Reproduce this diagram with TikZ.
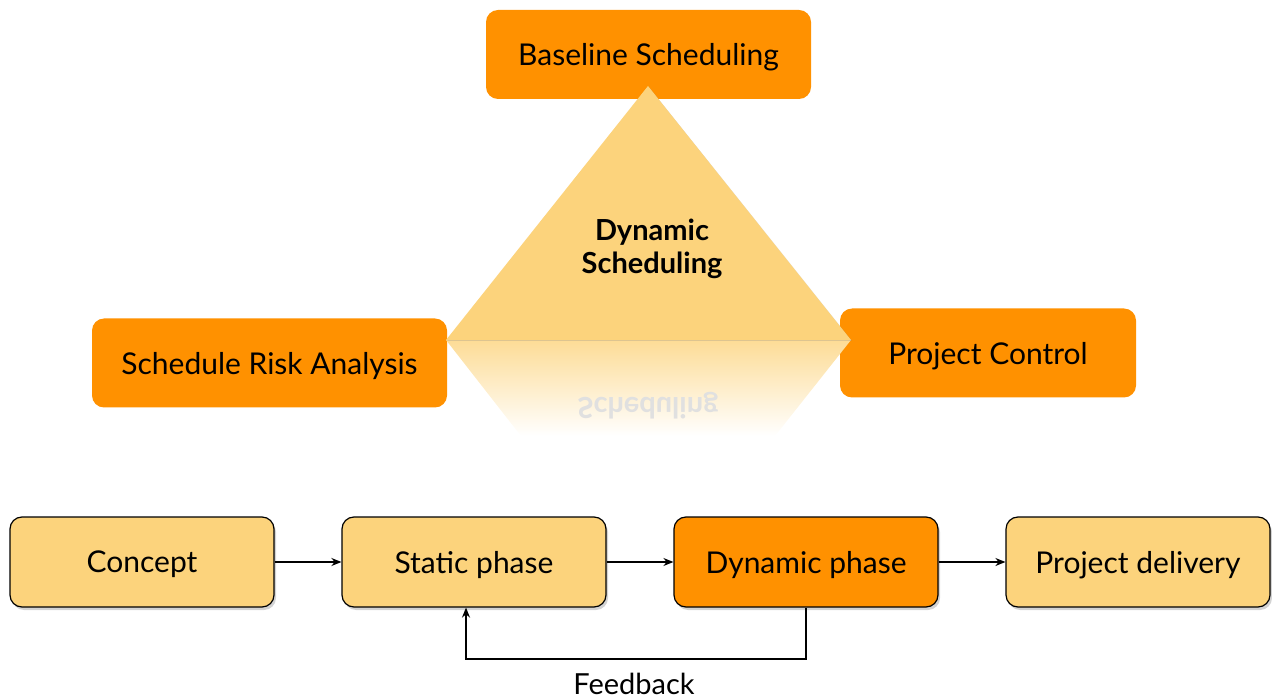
\documentclass[tikz,border=0pt]{standalone}
\usepackage{fontspec}
\setmainfont{Lato}
\usepackage{tikz}
\usetikzlibrary{positioning,calc,shadows,fadings,arrows.meta}

\definecolor{phaseorange}{RGB}{255,145,0}
\definecolor{phaselight}{RGB}{252,211,124}

\tikzset{
  topbox/.style={rectangle, rounded corners=12pt, fill=phaseorange, inner sep=0pt,
    minimum height=89pt, text depth=0pt, font=\fontsize{30}{34}\selectfont},
  phasebox/.style={rectangle, rounded corners=12pt, draw=black, line width=1.2pt,
    fill=phaselight, inner sep=0pt, minimum width=264pt, minimum height=90pt,
    text depth=0pt, font=\fontsize{30}{34}\selectfont,
    drop shadow={opacity=0.35, shadow xshift=2pt, shadow yshift=-3pt}},
  flow/.style={-{Stealth[length=10pt,width=8pt]}, line width=1.6pt}
}

\begin{document}
\begin{tikzpicture}[x=1pt,y=1pt,yscale=-1,xscale=1]
  \useasboundingbox (0,0) rectangle (1272,700);

  %Rounded Rect
  \node [topbox, minimum width=325pt] (base) at (648.5,54.5) {Baseline Scheduling};
  %Rounded Rect
  \node [topbox, minimum width=355pt] (risk) at (269.5,363) {Schedule Risk Analysis};
  %Rounded Rect
  \node [topbox, minimum width=296pt] (control) at (988,353) {Project Control};

  %Reflection
  \shade [top color=phaselight!80!white, bottom color=white]
    (446,340) -- (851,340) -- (775,436) -- (521,436) -- cycle ;
  \node [transform shape, text=black!12, font=\fontsize{29}{33}\selectfont\bfseries] (refl) at (648,406) {Scheduling};
  %Triangle
  \fill [phaselight, drop shadow={opacity=0.25, shadow xshift=1pt, shadow yshift=-1pt}]
    (648,86) -- (851,340) -- (446,340) -- cycle ;
  % Text Node
  \node [align=center, font=\fontsize{29}{33}\selectfont\bfseries] (dyn) at (652,249) {Dynamic\\Scheduling};

  %Phases
  \node [phasebox] (concept) at (142,562) {Concept};
  \node [phasebox] (static) at (474,562) {Static phase};
  \node [phasebox, fill=phaseorange] (dynamic) at (806,562) {Dynamic phase};
  \node [phasebox] (delivery) at (1138,562) {Project delivery};

  \draw [flow] (concept) -- (static);
  \draw [flow] (static) -- (dynamic);
  \draw [flow] (dynamic) -- (delivery);

  %Feedback loop
  \coordinate (fbr) at (806,659);
  \coordinate (fbl) at (466,659);
  \draw [flow] (dynamic.south) -- (fbr) -- (fbl) -- (fbl |- static.south);
  % Text Node
  \node [font=\fontsize{29}{33}\selectfont] (fb) at (634,684) {Feedback};
\end{tikzpicture}
\end{document}
